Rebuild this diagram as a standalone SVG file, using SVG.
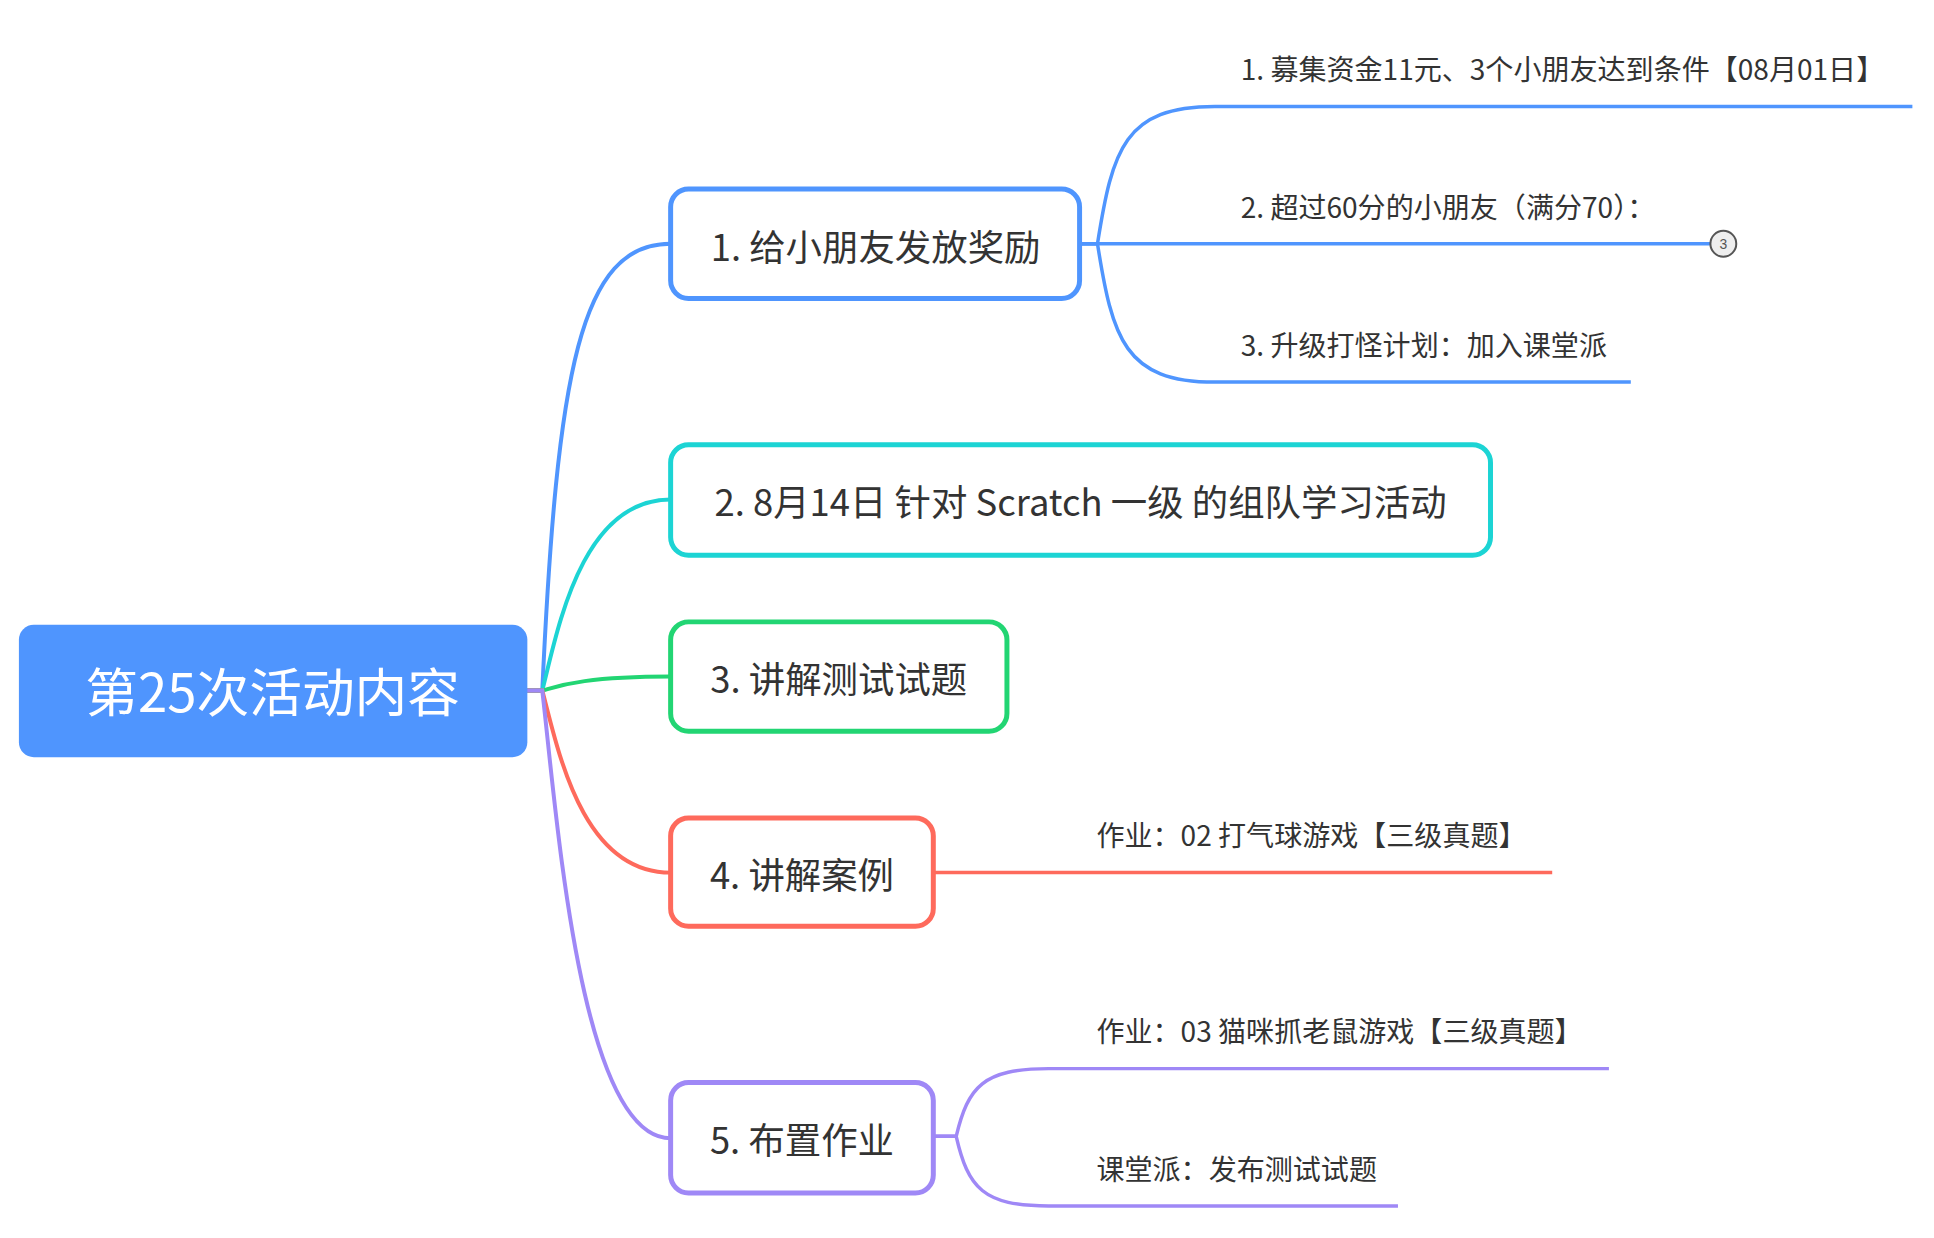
<svg xmlns="http://www.w3.org/2000/svg" width="1934" height="1238" viewBox="0 0 1934 1238">
<style>
.bg{fill:#ffffff}
.main{font-family:"Noto Sans CJK SC","Noto Sans",sans-serif;font-size:36.6px;fill:#333333;text-anchor:middle}
.sub{font-family:"Noto Sans CJK SC","Noto Sans",sans-serif;font-size:28.2px;fill:#333333}
.root{font-family:"Noto Sans CJK SC","Noto Sans",sans-serif;font-size:53px;fill:#ffffff;text-anchor:middle}
.box{fill:#ffffff;stroke-width:5}
.c{fill:none;stroke-width:4;stroke-linecap:round}
.s{fill:none;stroke-width:3.5}
.blue{stroke:#4F95FE}
.teal{stroke:#1CD4D4}
.green{stroke:#22D573}
.red{stroke:#FE6A5C}
.purple{stroke:#9F88F6}
</style>
<rect class="bg" x="0" y="0" width="1934" height="1238"/>
<g transform="scale(0.995)">
<g id="connectors">
  <path class="c blue" d="M530,694 L545,694 C560,372 583,245 674,245"/>
  <path class="c teal" d="M530,694 L545,694 C560,636 583,502 674,502"/>
  <path class="c green" d="M530,694 L545,694 C560,690 583,680 674,680"/>
  <path class="c red" d="M530,694 L545,694 C560,749 583,877 674,877"/>
  <path class="c purple" d="M530,694 L545,694 C560,823 583,1144 674,1144"/>
  <path class="s blue" d="M1085,245 L1103,245 C1118,150 1130,107 1221,107 L1922,107"/>
  <path class="s blue" d="M1085,245 L1719,245"/>
  <path class="s blue" d="M1085,245 L1103,245 C1118,340 1130,384 1221,384 L1639,384"/>
  <path class="s red" d="M938,877 L1560,877"/>
  <path class="s purple" d="M938,1142 L961,1142 C973,1092 988,1074 1054,1074 L1617,1074"/>
  <path class="s purple" d="M938,1142 L961,1142 C973,1194 988,1212 1054,1212 L1405,1212"/>
</g>
<g id="root">
  <rect x="19" y="628" width="511" height="133" rx="15" fill="#4F95FE"/>
  <text class="root" x="274" y="716">第25次活动内容</text>
</g>
<g id="node1">
  <rect class="box blue" x="674" y="190" width="411" height="110" rx="18"/>
  <text class="main" x="880" y="262">1. 给小朋友发放奖励</text>
</g>
<g id="node2">
  <rect class="box teal" x="674" y="447" width="824" height="111" rx="18"/>
  <text class="main" x="1086" y="519">2. 8月14日 针对 Scratch 一级 的组队学习活动</text>
</g>
<g id="node3">
  <rect class="box green" x="674" y="625" width="338" height="110" rx="18"/>
  <text class="main" x="843" y="696">3. 讲解测试试题</text>
</g>
<g id="node4">
  <rect class="box red" x="674" y="822" width="264" height="109" rx="18"/>
  <text class="main" x="806" y="893">4. 讲解案例</text>
</g>
<g id="node5">
  <rect class="box purple" x="674" y="1088" width="264" height="111" rx="18"/>
  <text class="main" x="806" y="1160">5. 布置作业</text>
</g>
<g id="sub1-1">
  <text class="sub" x="1247" y="80">1. 募集资金11元、3个小朋友达到条件【08月01日】</text>
</g>
<g id="sub1-2">
  <text class="sub" x="1247" y="219">2. 超过60分的小朋友（满分70）：</text>
  <circle cx="1732" cy="245" r="13" fill="#EEEEEE" stroke="#555555" stroke-width="2"/>
  <text x="1732" y="250" font-family="Liberation Sans, sans-serif" font-size="14" fill="#555555" text-anchor="middle">3</text>
</g>
<g id="sub1-3">
  <text class="sub" x="1247" y="358">3. 升级打怪计划：加入课堂派</text>
</g>
<g id="sub4-1">
  <text class="sub" x="1102" y="850">作业：02 打气球游戏【三级真题】</text>
</g>
<g id="sub5-1">
  <text class="sub" x="1102" y="1047">作业：03 猫咪抓老鼠游戏【三级真题】</text>
</g>
<g id="sub5-2">
  <text class="sub" x="1102" y="1186">课堂派：发布测试试题</text>
</g>
</g>
</svg>
